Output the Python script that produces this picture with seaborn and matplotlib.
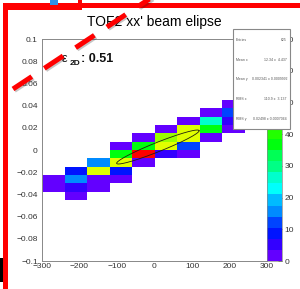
import colorsys
import numpy as np
import pandas as pd
import matplotlib
matplotlib.use("Agg")
import matplotlib.pyplot as plt
import matplotlib.patheffects as pe
from matplotlib.colors import ListedColormap
from matplotlib.patches import Rectangle
from matplotlib.lines import Line2D
import seaborn as sns

# ---------------- data ----------------
x_pos = [-270, -270,
         -210, -210, -210, -210,
         -150, -150, -150, -150,
         -90, -90, -90, -90, -90,
         -30, -30, -30, -30,
         30, 30, 30, 30,
         90, 90, 90, 90, 90,
         150, 150, 150, 150,
         210, 210, 210, 210]
y_pos = [-0.02625, -0.03375,
         -0.01875, -0.02625, -0.03375, -0.04125,
         -0.01125, -0.01875, -0.02625, -0.03375,
         0.00375, -0.00375, -0.01125, -0.01875, -0.02625,
         0.01125, 0.00375, -0.00375, -0.01125,
         0.01875, 0.01125, 0.00375, -0.00375,
         0.02625, 0.01875, 0.01125, 0.00375, -0.00375,
         0.03375, 0.02625, 0.01875, 0.01125,
         0.04125, 0.03375, 0.02625, 0.01875]
counts = [2, 2,
          10, 15, 6, 2,
          15, 52, 2, 2,
          2, 37, 52, 10, 2,
          2, 37, 67, 2,
          2, 47, 52, 5,
          2, 52, 52, 12, 2,
          2, 25, 37, 2,
          2, 12, 5, 2]

x_ticks = [-300, -200, -100, 0, 100, 200, 300]
x_labels = ["\u2212300", "\u2212200", "\u2212100", "0", "100", "200", "300"]
y_ticks = [0.1, 0.08, 0.06, 0.04, 0.02, 0, -0.02, -0.04, -0.06, -0.08, -0.1]
y_labels = ["0.1", "0.08", "0.06", "0.04", "0.02", "0",
            "\u22120.02", "\u22120.04", "\u22120.06", "\u22120.08", "\u22120.1"]
z_ticks = [0, 10, 20, 30, 40, 50, 60, 70]

title = "TOF2 xx' beam elipse"
eps_value = "0.51"
stat_names = ["Entries", "Mean x", "Mean y", "RMS x", "RMS y"]
stat_values = ["625", "12.34 \u00b1  4.437", "0.002341 \u00b1 0.0009992",
               "110.9 \u00b1  3.137", "0.02498 \u00b1 0.0007064"]

# fitted ellipse (centre, half length, slope, half thickness)
ell_cx, ell_cy = 9.0, 0.0027
ell_a, ell_slope, ell_h = 110.0, 0.000133, 0.0045

# ---------------- style ----------------
sns.set_theme(style="white")
plt.rcParams["font.family"] = ["Liberation Sans", "DejaVu Sans"]

W, H = 300, 289
fig = plt.figure(figsize=(W / 100, H / 100), dpi=100)
fig.patch.set_facecolor("white")


def fx(px):
    return px / W


def fy(py):
    return 1 - py / H


ax = fig.add_axes([fx(42), fy(261), (267 - 42) / W, (261 - 39) / H])
cax = fig.add_axes([fx(267), fy(261), 15 / W, (261 - 39) / H])

# ROOT "pretty" palette, 20 contour levels
pal = []
for k in range(20):
    idx = int((k + 0.99) * 50 / 20)
    hue = 280 - (idx + 1) * 280 / 50
    pal.append(colorsys.hls_to_rgb(hue / 360, 0.5, 1.0))
cmap = ListedColormap(pal)

x_edges = np.arange(-300, 301, 60)
y_edges = np.arange(-13, 14) * 0.0075

df = pd.DataFrame({"x": x_pos, "y": y_pos, "n": counts})
sns.histplot(data=df, x="x", y="y", weights="n", bins=[x_edges, y_edges],
             cmap=cmap, vmin=0, vmax=70, cbar=True, cbar_ax=cax, ax=ax)

ax.set_xlim(-300, 300)
ax.set_ylim(-0.1, 0.1)
ax.set_xlabel("")
ax.set_ylabel("")
ax.set_xticks(x_ticks)
ax.set_xticklabels(x_labels)
ax.set_yticks(y_ticks)
ax.set_yticklabels(y_labels)
ax.set_xticks(np.arange(-300, 301, 20), minor=True)
ax.set_yticks(np.arange(-0.1, 0.1001, 0.005), minor=True)
ax.tick_params(which="both", direction="in", color="#888888", width=0.6,
               labelsize=6, labelcolor="#333333", top=False, right=False)
ax.tick_params(which="major", length=5)
ax.tick_params(which="minor", length=2.5)
ax.tick_params(axis="y", pad=3)
ax.tick_params(axis="x", pad=1.5)
for s in ax.spines.values():
    s.set_color("#888888")
    s.set_linewidth(0.7)
ax.grid(False)

# ellipse
t = np.linspace(0, 2 * np.pi, 200)
ex = ell_cx + ell_a * np.cos(t)
ey = ell_cy + ell_slope * ell_a * np.cos(t) + ell_h * np.sin(t)
ax.plot(ex, ey, color="#202010", lw=0.6)

# colorbar
cax.set_yticks(z_ticks)
cax.set_yticklabels([str(v) for v in z_ticks])
cax.tick_params(axis="y", direction="in", length=3, width=0.6, color="#444444",
                labelsize=6, labelcolor="#333333", pad=2, right=True, left=False)
for s in cax.spines.values():
    s.set_color("#888888")
    s.set_linewidth(0.5)
# labels behind the stats box: only their right edge peeks out
peek = Rectangle((fx(290), 0), 10 / W, 1, transform=fig.transFigure,
                 facecolor="none", edgecolor="none")
fig.add_artist(peek)
for v, lbl in zip(z_ticks, cax.get_yticklabels()):
    if v >= 50:
        lbl.set_clip_path(peek)

# title and epsilon text
fig.text(fx(154), fy(26), title, ha="center", va="baseline", fontsize=10,
         color="black")
fig.text(fx(62), fy(62), "\u03b5", ha="left", va="baseline", fontsize=9,
         color="#111111")
fig.text(fx(70), fy(65), "2D", ha="left", va="baseline", fontsize=6,
         fontweight="bold", color="#111111")
fig.text(fx(81), fy(62), ": " + eps_value, ha="left", va="baseline",
         fontsize=9, fontweight="bold", color="#111111")

# stats box
box = Rectangle((fx(233), fy(129)), 57 / W, 100 / H, transform=fig.transFigure,
                facecolor="white", edgecolor="#888888", lw=0.8, zorder=20)
fig.add_artist(box)
for i, (nm, val) in enumerate(zip(stat_names, stat_values)):
    yy = fy(40 + i * 19.7)
    fig.text(fx(236), yy, nm, ha="left", va="center", fontsize=2.5,
             color="#555555", zorder=21)
    fig.text(fx(287), yy, val, ha="right", va="center", fontsize=2.5,
             color="#555555", zorder=21)

# red annotation frame
for (x0, y0, w, h) in [(3, 3, 297, 5), (3, 5, 77, 5), (3, 3, 5, 286), (78, 0, 4, 10)]:
    fig.add_artist(Rectangle((fx(x0), fy(y0 + h)), w / W, h / H,
                             transform=fig.transFigure, facecolor="#ff0000",
                             edgecolor="none", zorder=30))
fig.add_artist(Rectangle((fx(50), fy(5)), 8 / W, 5 / H, transform=fig.transFigure,
                         facecolor="#2f8fe8", edgecolor="none", zorder=30))
fig.add_artist(Rectangle((fx(0), fy(282)), 3 / W, 24 / H, transform=fig.transFigure,
                         facecolor="black", edgecolor="none", zorder=30))

# red dashed arrow line
dash = Line2D([fx(13), fx(175)], [fy(89), fy(89 - 0.66 * 162)],
              transform=fig.transFigure, color="#ff0000", lw=3.6,
              linestyle=(0, (4.5, 3.0)), solid_capstyle="butt",
              dash_capstyle="butt", zorder=31,
              path_effects=[pe.SimpleLineShadow(offset=(1.0, -1.0), alpha=0.25),
                            pe.Normal()])
fig.add_artist(dash)

fig.savefig("out.png", dpi=100)
